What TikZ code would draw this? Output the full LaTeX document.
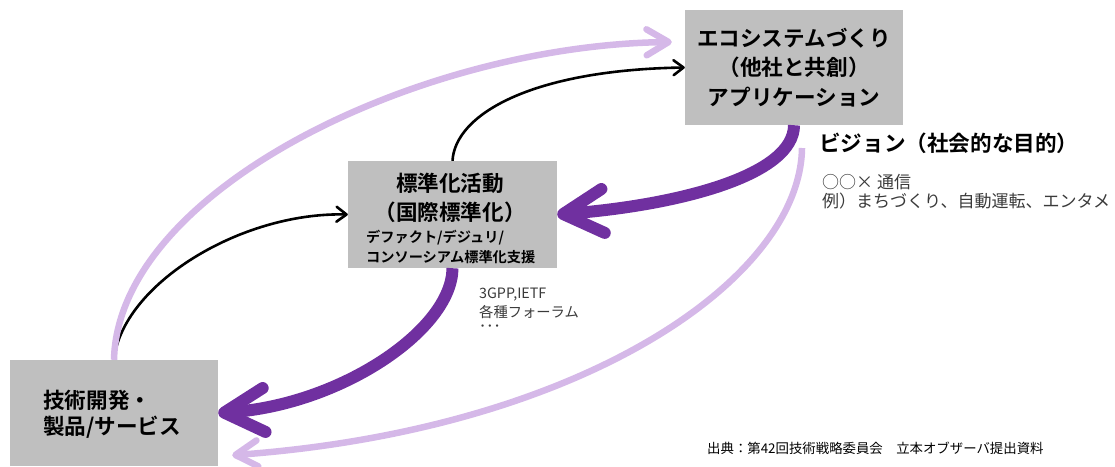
\documentclass[tikz,border=0pt]{standalone}
\usepackage{fontspec}
\setmainfont{Noto Sans CJK JP}[BoldFont={Noto Sans CJK JP Bold}]
\usetikzlibrary{arrows.meta,calc}
\definecolor{boxgray}{HTML}{BFBFBF}
\definecolor{dpurple}{HTML}{7030A0}
\definecolor{lpurple}{HTML}{D5B8E8}
\definecolor{notegray}{HTML}{3A3A3A}
\begin{document}
\begin{tikzpicture}[x=1pt,y=-1pt,
  graybox/.style={fill=boxgray, draw=none, inner sep=0pt},
  bigtxt/.style={font=\fontsize{21.6}{29.5}\selectfont\bfseries, inner sep=0pt},
  midtxt/.style={font=\fontsize{14.2}{19}\selectfont\bfseries, inner sep=0pt, anchor=west},
  notetxt/.style={font=\fontsize{17}{20}\selectfont, text=notegray, inner sep=0pt, anchor=west},
  smalltxt/.style={font=\fontsize{14.3}{17}\selectfont, text=notegray, inner sep=0pt, anchor=west},
  foottxt/.style={font=\fontsize{13.4}{16}\selectfont, text=black, inner sep=0pt, anchor=west},
  thickflow/.style={draw=dpurple, line width=12pt, -{Straight Barb[round, length=40pt, width=44pt]}},
  lightflow/.style={draw=lpurple, line width=6.5pt, -{Straight Barb[round, length=22pt, width=26pt]}},
  thinflow/.style={draw=black, line width=2.6pt, -{Straight Barb[round, length=10pt, width=15pt]}}
]
\useasboundingbox (0,0) rectangle (1115,466);

% boxes
\node[graybox, minimum width=218pt, minimum height=115pt, align=center, bigtxt] (eco) at (794,67.5)
  {エコシステムづくり\\（他社と共創）\\アプリケーション};
\node[graybox, minimum width=209pt, minimum height=107pt] (std) at (452.5,214.5) {};
\node[graybox, minimum width=208pt, minimum height=106pt] (tech) at (114,413) {};

% texts in std box
\node[bigtxt] (s1) at (450,183) {標準化活動};
\node[bigtxt] (s2) at (450,212) {（国際標準化）};
\node[midtxt] (s3) at (366,238) {デファクト/デジュリ/};
\node[midtxt] (s4) at (366,257) {コンソーシアム標準化支援};

% texts in tech box
\node[bigtxt, anchor=west] (t1) at (43,400) {技術開発・};
\node[bigtxt, anchor=west] (t2) at (43,427) {製品/サービス};

% vision
\node[bigtxt, anchor=west] (vis) at (819,143) {ビジョン（社会的な目的）};
\node[notetxt] (n1) at (822,182) {○○× 通信};
\node[notetxt] (n2) at (822,201) {例）まちづくり、自動運転、エンタメ};

% forums
\node[smalltxt] (f1) at (479,295) {3GPP,IETF};
\node[smalltxt] (f2) at (479,312) {各種フォーラム};
\node[smalltxt] (f3) at (479,328) {･･･};

% footer
\node[foottxt] (src) at (707,448) {出典：第42回技術戦略委員会　立本オブザーバ提出資料};

\coordinate (vs) at (802,148);

% connectors
\draw[thinflow] (tech.north) .. controls (122,285) and (240,212) .. (std.west);
\draw[lightflow] (tech.north) .. controls (118,190) and (420,45) .. ($(eco.west)+(-13,-25.5)$);
\draw[thinflow] (std.north) .. controls (455,115) and (530,70) .. (eco.west);
\draw[lightflow] (vs) .. controls (800,280) and (580,430) .. ($(tech.south east)+(14,-11)$);
\draw[thickflow] (eco.south) .. controls (794,175) and (680,205) .. (std.east);
\draw[thickflow] (std.south) .. controls (452,330) and (340,405) .. (tech.east);
\end{tikzpicture}
\end{document}
